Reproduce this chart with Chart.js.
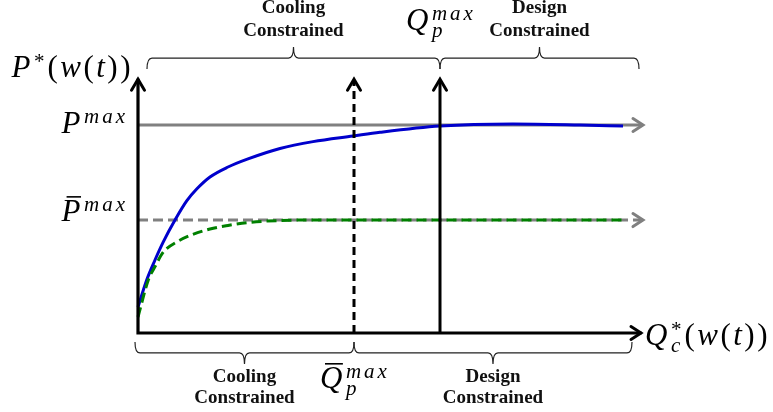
<!DOCTYPE html>
<html>
<head>
<meta charset="utf-8">
<script src="https://cdn.jsdelivr.net/npm/chart.js@4"></script>
<style>
  html, body { margin: 0; padding: 0; background: #fff; }
  canvas { display: block; }
</style>
</head>
<body>
<canvas id="chart" width="773" height="412"></canvas>
<script>
// curve values (Q on x, P on y, P = 1 is P^max)
const blueQ = [0, 0.174, 0.34, 0.506, 0.74, 0.974, 1.174, 1.44, 1.8, 2.2, 2.84, 3.5, 4.3, 4.84, 6.04, 7.5, 8.84, 9.7];
const blueP = [0.125, 0.255, 0.351, 0.438, 0.543, 0.635, 0.692, 0.75, 0.798, 0.837, 0.887, 0.92, 0.947, 0.965, 0.995, 1.005, 1.0, 0.995];
const greenQ = [0, 0.206, 0.34, 0.506, 0.774, 1.04, 1.44, 1.8, 2.2, 2.84, 3.24, 9.7];
const greenP = [0.077, 0.255, 0.319, 0.389, 0.4375, 0.469, 0.5, 0.517, 0.531, 0.541, 0.543, 0.543];

// reference levels
const pMax = 1.0;
const pBarMax = 0.543;
const qBarPMax = 4.32;
const qPMax = 6.04;
const refLineEnd = 10.1;
const xAxisEnd = 10.06;
const yAxisEnd = 1.22;

// braces [from, to] in Q units, and their levels in P units
const topBraces = [[0.18, 6.04], [6.04, 10.02]];
const bottomBraces = [[-0.06, 4.32], [4.32, 9.88]];
const topBraceP = 1.322;
const bottomBraceP = -0.096;
const topNames = [['Cooling', 'Constrained'], ['Design', 'Constrained']];
const bottomNames = [['Cooling', 'Constrained'], ['Design', 'Constrained']];

// math labels (r = upright)
const yAxisLabel = [{t: 'P'}, {sup: '*', supR: true}, {t: '(', r: true}, {t: 'w'}, {t: '(', r: true}, {t: 't'}, {t: '))', r: true}];
const xAxisLabel = [{t: 'Q'}, {sup: '*', supR: true, sub: 'c'}, {t: '(', r: true}, {t: 'w'}, {t: '(', r: true}, {t: 't'}, {t: '))', r: true}];
const pMaxLabel = [{t: 'P'}, {sup: 'max'}];
const pBarLabel = [{t: 'P', bar: true}, {sup: 'max'}];
const qPLabel = [{t: 'Q'}, {sup: 'max', sub: 'p'}];
const qBarLabel = [{t: 'Q', bar: true}, {sup: 'max', sub: 'p'}];

const xMin = -2.76, xMax = 12.7;
const yMin = -0.3798, yMax = 1.601;

const toPts = (xs, ys) => xs.map((q, i) => ({x: q, y: ys[i]}));

const BASE = 31, SCRIPT = 21;
const BASE_SP = 2.5, SCRIPT_SP = 3;
const SERIF = '"Liberation Serif", "DejaVu Serif", serif';

function spacedWidth(ctx, s, sp) {
  let w = 0;
  for (const ch of s) w += ctx.measureText(ch).width + sp;
  return w;
}
function spacedText(ctx, s, x, y, sp) {
  for (const ch of s) {
    ctx.fillText(ch, x, y);
    x += ctx.measureText(ch).width + sp;
  }
}

function partWidth(ctx, p) {
  if (p.t) {
    ctx.font = (p.r ? '' : 'italic ') + BASE + 'px ' + SERIF;
    return spacedWidth(ctx, p.t, BASE_SP);
  }
  let w = 0;
  if (p.sup) {
    ctx.font = (p.supR ? '' : 'italic ') + SCRIPT + 'px ' + SERIF;
    w = spacedWidth(ctx, p.sup, SCRIPT_SP);
  }
  if (p.sub) {
    ctx.font = 'italic ' + SCRIPT + 'px ' + SERIF;
    w = Math.max(w, spacedWidth(ctx, p.sub, SCRIPT_SP));
  }
  return w + 1;
}

function drawMath(ctx, parts, x, y, align) {
  let total = 0;
  parts.forEach(p => total += partWidth(ctx, p));
  let cx = align === 'right' ? x - total : x;
  ctx.fillStyle = '#000';
  ctx.textAlign = 'left';
  ctx.textBaseline = 'alphabetic';
  parts.forEach(p => {
    const w = partWidth(ctx, p);
    if (p.t) {
      ctx.font = (p.r ? '' : 'italic ') + BASE + 'px ' + SERIF;
      spacedText(ctx, p.t, cx, y, BASE_SP);
      if (p.bar) ctx.fillRect(cx + 5, y - 25, w - 7, 1.6);
    } else {
      if (p.sup) {
        ctx.font = (p.supR ? '' : 'italic ') + SCRIPT + 'px ' + SERIF;
        spacedText(ctx, p.sup, cx + 1, y - (p.sup === '*' ? 9 : 10), SCRIPT_SP);
      }
      if (p.sub) {
        ctx.font = 'italic ' + SCRIPT + 'px ' + SERIF;
        spacedText(ctx, p.sub, cx + 1, y + 7, SCRIPT_SP);
      }
    }
    cx += w;
  });
}

function chevron(ctx, tx, ty, dir, color) {
  ctx.save();
  ctx.setLineDash([]);
  ctx.strokeStyle = color;
  ctx.lineWidth = 3;
  ctx.lineCap = 'round';
  ctx.lineJoin = 'miter';
  ctx.beginPath();
  if (dir === 'up') {
    ctx.moveTo(tx - 6.5, ty + 11);
    ctx.lineTo(tx, ty);
    ctx.lineTo(tx + 6.5, ty + 11);
  } else {
    ctx.moveTo(tx - 10, ty - 6.5);
    ctx.lineTo(tx, ty);
    ctx.lineTo(tx - 10, ty + 6.5);
  }
  ctx.stroke();
  ctx.restore();
}

function brace(ctx, xa, xb, yl, dir) {
  // dir -1: tip points up, +1: tip points down
  const d = 11, r = 5, mid = (xa + xb) / 2;
  ctx.beginPath();
  ctx.moveTo(xa, yl - dir * d);
  ctx.quadraticCurveTo(xa, yl, xa + r, yl);
  ctx.lineTo(mid - r, yl);
  ctx.quadraticCurveTo(mid, yl, mid, yl + dir * d);
  ctx.quadraticCurveTo(mid, yl, mid + r, yl);
  ctx.lineTo(xb - r, yl);
  ctx.quadraticCurveTo(xb, yl, xb, yl - dir * d);
  ctx.stroke();
}

const overlay = {
  id: 'overlay',
  afterDatasetsDraw(chart) {
    const {ctx, scales: {x, y}} = chart;
    const px = v => x.getPixelForValue(v);
    const py = v => y.getPixelForValue(v);
    const x0 = px(0), y0 = py(0);
    ctx.save();

    // arrowheads on the two reference lines
    chevron(ctx, px(refLineEnd), py(pMax), 'right', '#808080');
    chevron(ctx, px(refLineEnd), py(pBarMax), 'right', '#808080');

    // dashed marker at Qbar_p^max
    ctx.strokeStyle = '#000';
    ctx.lineWidth = 3;
    ctx.setLineDash([8, 5]);
    ctx.beginPath();
    ctx.moveTo(px(qBarPMax), y0);
    ctx.lineTo(px(qBarPMax), py(yAxisEnd) + 1);
    ctx.stroke();
    chevron(ctx, px(qBarPMax), py(yAxisEnd), 'up', '#000');

    // solid marker at Q_p^max
    ctx.setLineDash([]);
    ctx.beginPath();
    ctx.moveTo(px(qPMax), y0);
    ctx.lineTo(px(qPMax), py(yAxisEnd) + 1);
    ctx.stroke();
    chevron(ctx, px(qPMax), py(yAxisEnd), 'up', '#000');

    // axes
    ctx.lineWidth = 3.2;
    ctx.lineCap = 'square';
    ctx.beginPath();
    ctx.moveTo(x0, py(yAxisEnd) + 1);
    ctx.lineTo(x0, y0);
    ctx.lineTo(px(xAxisEnd) - 1, y0);
    ctx.stroke();
    chevron(ctx, x0, py(yAxisEnd), 'up', '#000');
    chevron(ctx, px(xAxisEnd), y0, 'right', '#000');

    // braces
    ctx.lineWidth = 1.2;
    ctx.lineCap = 'butt';
    ctx.strokeStyle = '#222';
    const tY = py(topBraceP), bY = py(bottomBraceP);
    topBraces.forEach(b => brace(ctx, px(b[0]), px(b[1]), tY, -1));
    bottomBraces.forEach(b => brace(ctx, px(b[0]), px(b[1]), bY, 1));

    // region names
    ctx.fillStyle = '#111';
    ctx.textAlign = 'center';
    ctx.textBaseline = 'alphabetic';
    ctx.font = 'bold 19px ' + SERIF;
    topBraces.forEach((b, i) => {
      const mid = (px(b[0]) + px(b[1])) / 2;
      ctx.fillText(topNames[i][0], mid, tY - 45);
      ctx.fillText(topNames[i][1], mid, tY - 22);
    });
    bottomBraces.forEach((b, i) => {
      const mid = (px(b[0]) + px(b[1])) / 2;
      ctx.fillText(bottomNames[i][0], mid, bY + 29);
      ctx.fillText(bottomNames[i][1], mid, bY + 50);
    });

    // math labels
    drawMath(ctx, yAxisLabel, x0 - 5, py(yAxisEnd) - 2, 'right');
    drawMath(ctx, pMaxLabel, x0 - 10, py(pMax) + 8, 'right');
    drawMath(ctx, pBarLabel, x0 - 10, py(pBarMax) + 1, 'right');
    drawMath(ctx, qPLabel, px(qPMax) - 34, tY - 28, 'left');
    drawMath(ctx, qBarLabel, px(qBarPMax) - 34, y0 + 55, 'left');
    drawMath(ctx, xAxisLabel, px(xAxisEnd) + 4, y0 + 12, 'left');

    ctx.restore();
  }
};

new Chart(document.getElementById('chart'), {
  type: 'line',
  data: {
    datasets: [
      {
        label: 'P max',
        data: toPts([0, refLineEnd], [pMax, pMax]),
        borderColor: '#808080', borderWidth: 3,
        order: 4
      },
      {
        label: 'P bar max',
        data: toPts([0, refLineEnd], [pBarMax, pBarMax]),
        borderColor: '#808080', borderWidth: 3, borderDash: [10, 5],
        order: 3
      },
      {
        label: 'P*',
        data: toPts(blueQ, blueP),
        borderColor: '#0000cc', borderWidth: 3,
        cubicInterpolationMode: 'monotone',
        order: 2
      },
      {
        label: 'P bar*',
        data: toPts(greenQ, greenP),
        borderColor: '#008000', borderWidth: 3, borderDash: [10, 5],
        cubicInterpolationMode: 'monotone',
        order: 1
      }
    ]
  },
  options: {
    responsive: false,
    animation: false,
    events: [],
    layout: { padding: 0 },
    elements: { point: { radius: 0 }, line: { borderCapStyle: 'butt' } },
    plugins: { legend: { display: false }, tooltip: { enabled: false } },
    scales: {
      x: { type: 'linear', min: xMin, max: xMax, display: false },
      y: { type: 'linear', min: yMin, max: yMax, display: false }
    }
  },
  plugins: [overlay]
});
</script>
</body>
</html>
